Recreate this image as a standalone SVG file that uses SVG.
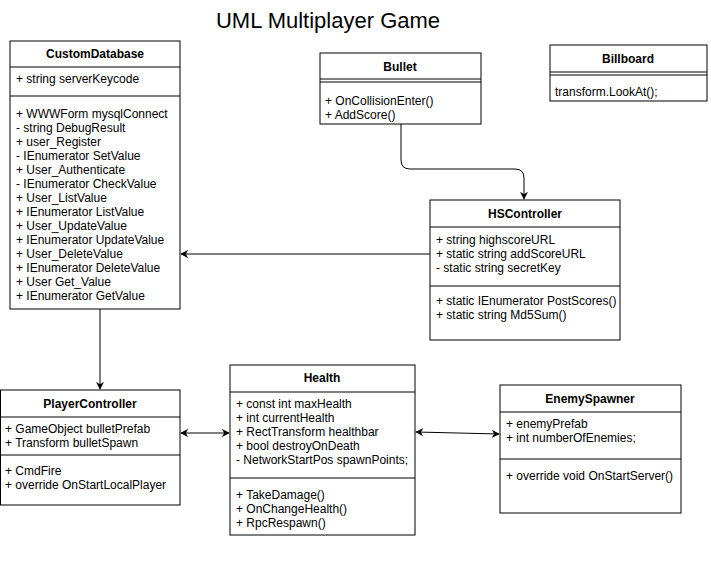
<svg xmlns="http://www.w3.org/2000/svg" width="711" height="562" viewBox="0 0 711 562">
<defs>
<style>
.box{fill:#fff;stroke:#000;stroke-width:1}
.ln{stroke:#000;stroke-width:1;fill:none}
text{font-family:"Liberation Sans",Arial,sans-serif;font-size:12px;fill:#000}
.h{font-weight:bold;text-anchor:middle}
.title{font-size:22px;text-anchor:middle}
.edge{stroke:#000;stroke-width:1;fill:none}
</style>
<marker id="arr" viewBox="0 0 10 10" refX="9" refY="5" markerWidth="8" markerHeight="8" orient="auto-start-reverse" markerUnits="userSpaceOnUse">
<path d="M0,0 L10,5 L0,10 L3,5 Z" fill="#000"/>
</marker>
</defs>
<rect width="711" height="562" fill="#fff"/>
<text class="title" x="328" y="28">UML Multiplayer Game</text>

<g id="connectors">
<path class="edge" d="M401,124 V160 Q401,169 410,169 H515 Q524,169 524,178 V199" marker-end="url(#arr)"/>
<path class="edge" d="M430,254 H181" marker-end="url(#arr)"/>
<path class="edge" d="M100,309 V389" marker-end="url(#arr)"/>
<path class="edge" d="M181,433 H229" marker-start="url(#arr)" marker-end="url(#arr)"/>
<path class="edge" d="M416,432 L499,434" marker-start="url(#arr)" marker-end="url(#arr)"/>
</g>

<g id="CustomDatabase">
<rect class="box" x="10" y="41" width="170" height="268"/>
<line class="ln" x1="10" y1="67" x2="180" y2="67"/>
<line class="ln" x1="10" y1="96" x2="180" y2="96"/>
<text class="h" x="95" y="58">CustomDatabase</text>
<text x="16" y="83">+ string serverKeycode</text>
<text x="16" y="118">+ WWWForm mysqlConnect</text>
<text x="16" y="132">- string DebugResult</text>
<text x="16" y="146">+ user_Register</text>
<text x="16" y="160">- IEnumerator SetValue</text>
<text x="16" y="174">+ User_Authenticate</text>
<text x="16" y="188">- IEnumerator CheckValue</text>
<text x="16" y="202">+ User_ListValue</text>
<text x="16" y="216">+ IEnumerator ListValue</text>
<text x="16" y="230">+ User_UpdateValue</text>
<text x="16" y="244">+ IEnumerator UpdateValue</text>
<text x="16" y="258">+ User_DeleteValue</text>
<text x="16" y="272">+ IEnumerator DeleteValue</text>
<text x="16" y="286">+ User Get_Value</text>
<text x="16" y="300">+ IEnumerator GetValue</text>
</g>

<g id="Bullet">
<rect class="box" x="320" y="53" width="161" height="71"/>
<line class="ln" x1="320" y1="79" x2="481" y2="79"/>
<line class="ln" x1="320" y1="82" x2="481" y2="82"/>
<text class="h" x="400" y="71">Bullet</text>
<text x="325" y="105">+ OnCollisionEnter()</text>
<text x="325" y="119">+ AddScore()</text>
</g>

<g id="Billboard">
<rect class="box" x="550" y="45" width="157" height="56"/>
<line class="ln" x1="550" y1="72" x2="707" y2="72"/>
<line class="ln" x1="550" y1="75" x2="707" y2="75"/>
<text class="h" x="628" y="63">Billboard</text>
<text x="555" y="96">transform.LookAt();</text>
</g>

<g id="HSController">
<rect class="box" x="430" y="200" width="190" height="140"/>
<line class="ln" x1="430" y1="227" x2="620" y2="227"/>
<line class="ln" x1="430" y1="286" x2="620" y2="286"/>
<text class="h" x="525" y="218">HSController</text>
<text x="436" y="244">+ string highscoreURL</text>
<text x="436" y="258">+ static string addScoreURL</text>
<text x="436" y="272">- static string secretKey</text>
<text x="436" y="305">+ static IEnumerator PostScores()</text>
<text x="436" y="319">+ static string Md5Sum()</text>
</g>

<g id="PlayerController">
<rect class="box" x="0.5" y="390" width="179.5" height="115"/>
<line class="ln" x1="0.5" y1="417" x2="180" y2="417"/>
<line class="ln" x1="0.5" y1="455" x2="180" y2="455"/>
<text class="h" x="90" y="408">PlayerController</text>
<text x="5" y="433">+ GameObject bulletPrefab</text>
<text x="5" y="447">+ Transform bulletSpawn</text>
<text x="5" y="475">+ CmdFire</text>
<text x="5" y="489">+ override OnStartLocalPlayer</text>
</g>

<g id="Health">
<rect class="box" x="230" y="365" width="185" height="170"/>
<line class="ln" x1="230" y1="392" x2="415" y2="392"/>
<line class="ln" x1="230" y1="478" x2="415" y2="478"/>
<text class="h" x="322" y="382">Health</text>
<text x="236" y="408">+ const int maxHealth</text>
<text x="236" y="422">+ int currentHealth</text>
<text x="236" y="436">+ RectTransform healthbar</text>
<text x="236" y="450">+ bool destroyOnDeath</text>
<text x="236" y="464">- NetworkStartPos spawnPoints;</text>
<text x="236" y="499">+ TakeDamage()</text>
<text x="236" y="513">+ OnChangeHealth()</text>
<text x="236" y="527">+ RpcRespawn()</text>
</g>

<g id="EnemySpawner">
<rect class="box" x="500" y="385" width="181" height="128"/>
<line class="ln" x1="500" y1="412" x2="681" y2="412"/>
<line class="ln" x1="500" y1="459" x2="681" y2="459"/>
<text class="h" x="590" y="403">EnemySpawner</text>
<text x="506" y="428">+ enemyPrefab</text>
<text x="506" y="442">+ int numberOfEnemies;</text>
<text x="506" y="480">+ override void OnStartServer()</text>
</g>
</svg>
